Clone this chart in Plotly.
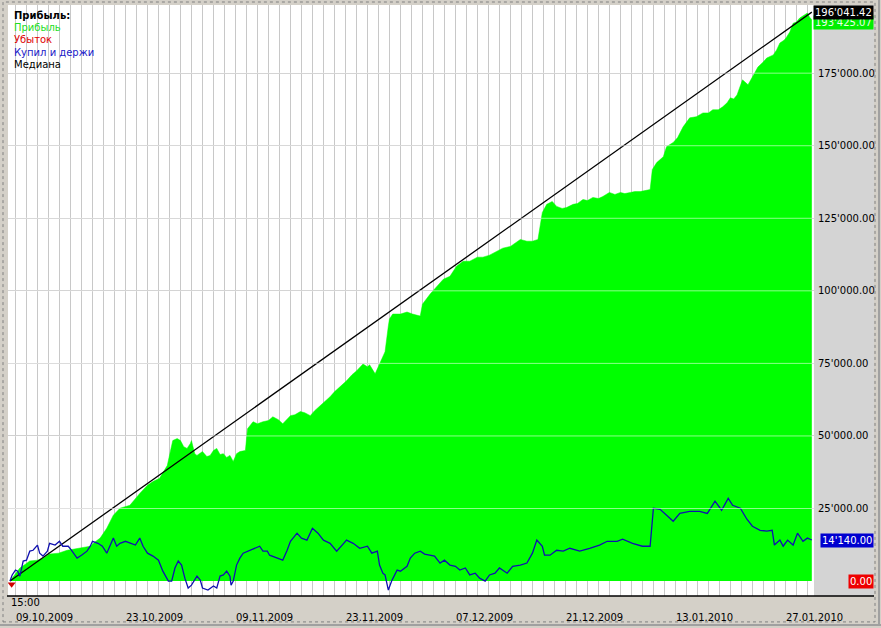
import plotly.graph_objects as go

# ---------------- data ----------------
equity_bar = [0, 5, 9, 14, 18, 25, 30, 36, 44, 52, 59, 65, 73, 77, 82, 88, 94, 100, 109, 118,
              125, 130, 136, 143, 145, 148, 152, 155, 158, 161, 164, 165, 168, 170, 175, 179, 182, 185, 188, 191,
              194, 197, 200, 203, 206, 209, 214, 216, 221, 225, 230, 235, 239, 244, 248, 252, 255, 259, 264, 268,
              273, 277, 282, 286, 291, 295, 300, 306, 311, 315, 321, 325, 327, 332, 336, 341, 344, 345, 348, 355,
              361, 366, 373, 375, 382, 388, 394, 400, 406, 412, 418, 425, 430, 436, 443, 448, 455, 459, 464, 470,
              475, 480, 482, 484, 488, 493, 497, 502, 506, 512, 516, 521, 525, 530, 535, 539, 545, 550, 555, 559,
              564, 568, 573, 577, 582, 584, 588, 594, 597, 603, 607, 612, 618, 624, 630, 635, 639, 644, 648, 652,
              655, 658, 661, 666, 671, 675, 680, 685, 688, 694, 697, 700, 704, 706, 709, 712, 715, 718, 722, 725,
              727, 729]
equity_val = [0, 2700, 4500, 5800, 6900, 7200, 7900, 9300, 9600, 10600, 11000, 11300, 12000, 13400, 14800, 18200, 22700, 25100, 26100, 30200,
              33000, 34300, 35400, 39800, 43300, 48400, 49100, 48400, 46300, 45700, 47400, 48400, 43900, 43300, 44600, 42900, 43300, 45000, 45700, 43600,
              43900, 42600, 43300, 41200, 43900, 44600, 45000, 52500, 54900, 54200, 54900, 55300, 56600, 55600, 54200, 56000, 57000, 57300, 58400, 58000,
              57000, 58700, 60400, 61800, 63500, 65200, 66900, 69000, 71100, 72400, 74800, 73800, 74500, 71400, 74800, 79000, 87900, 90300, 92000, 92000,
              92700, 92000, 91300, 95400, 98900, 101600, 104000, 105000, 108500, 110200, 110200, 111600, 111600, 112300, 113600, 114700, 115300, 116400, 117700, 117100,
              117100, 117700, 122900, 127000, 129800, 130800, 129100, 128400, 128700, 129800, 130100, 131500, 131100, 132200, 131800, 132500, 133900, 133200, 133900, 133500,
              133900, 134200, 134200, 134600, 134900, 141800, 144200, 146200, 149700, 151100, 152800, 156500, 159600, 160000, 161300, 161300, 162400, 162400, 163400, 164800,
              166500, 166100, 167500, 172700, 171000, 173700, 177100, 178900, 180200, 181300, 183000, 185400, 186400, 187400, 189200, 192200, 192600, 194000, 195000, 195700,
              194300, 193425.07]

bh_bar = [0, 2, 5, 7, 9, 12, 15, 18, 21, 25, 27, 30, 34, 36, 41, 45, 48, 53, 56, 61,
          65, 70, 73, 75, 80, 84, 88, 91, 94, 97, 100, 105, 109, 114, 118, 121, 125, 130, 135, 139,
          144, 147, 150, 153, 156, 159, 162, 165, 170, 173, 175, 180, 185, 188, 191, 194, 197, 200, 201, 203,
          206, 209, 212, 218, 223, 227, 230, 234, 236, 243, 248, 252, 255, 261, 265, 270, 275, 280, 285, 291,
          297, 302, 306, 312, 318, 325, 329, 334, 336, 339, 341, 344, 347, 352, 355, 361, 364, 368, 373, 377,
          382, 386, 391, 395, 400, 405, 409, 414, 418, 423, 427, 432, 436, 441, 445, 452, 457, 464, 470, 475,
          479, 484, 486, 491, 497, 503, 509, 518, 527, 536, 543, 552, 557, 566, 575, 582, 585, 591, 597, 603,
          609, 618, 627, 634, 641, 647, 653, 657, 664, 670, 675, 682, 688, 693, 695, 700, 703, 707, 712, 716,
          721, 725, 729]
bh_val = [0, 2100, 3800, 3400, 1700, 6900, 7200, 10300, 10600, 12400, 9600, 8600, 10300, 13000, 12400, 13700, 12000, 12000, 10600, 7900,
          8900, 10300, 12000, 13700, 13000, 12000, 9600, 12000, 14800, 12000, 13000, 13700, 13000, 12400, 14800, 12000, 9600, 8600, 7200, 3400,
          0, 0, 4500, 6900, 5500, 1000, -2400, -1400, 1700, 300, -2400, -3100, -1700, -2400, 1700, 2100, 3400, 1700, -1400, 0,
          5500, 7900, 9600, 10600, 11300, 12000, 10300, 10300, 8900, 7900, 7200, 10600, 13700, 16500, 14800, 14100, 18200, 16500, 14100, 13000,
          10300, 12400, 14100, 13000, 11300, 12000, 9600, 10300, 5500, 2700, 2100, -3100, 0, 3800, 3400, 5100, 7900, 9600, 10300, 9300,
          8900, 8600, 6200, 7200, 5500, 5100, 3800, 4500, 2100, 2700, 1000, 0, 2100, 2700, 4500, 2700, 5100, 5500, 6200, 9600,
          14100, 12000, 8900, 8900, 10600, 10300, 11300, 10300, 11300, 12400, 13700, 13700, 14400, 13000, 12000, 12000, 25100, 24700, 22700, 20600,
          23300, 24000, 24000, 23300, 27500, 24400, 28500, 26100, 25100, 21300, 18900, 17500, 17200, 17500, 12400, 14100, 12000, 14100, 12400, 16500,
          13700, 14800, 14140]

median_bar = [0, 729]
median_val = [0, 196041.42]

final_equity = 193425.07
final_median = 196041.42
final_bh = 14140.00
final_loss = 0.00

date_tick_bars = [5.45, 105.45, 205.45, 305.45, 405.45, 505.45, 605.45, 705.45]
date_tick_text = ["09.10.2009", "23.10.2009", "09.11.2009", "23.11.2009",
                  "07.12.2009", "21.12.2009", "13.01.2010", "27.01.2010"]
y_tick_vals = [25000, 50000, 75000, 100000, 125000, 150000, 175000]


def fmt(v):
    s = f"{v:,.2f}".replace(",", "'")
    return s


y_tick_text = [fmt(v) for v in y_tick_vals]

# ---------------- layout helpers ----------------
W, H = 881, 628
L, R, T, B = 8, 814, 5, 598
FONT = "DejaVu Sans"


def px(x):
    return (x - L) / (R - L)


def py(y):
    return (B - y) / (B - T)


fig = go.Figure()

fig.add_trace(go.Scatter(
    x=equity_bar, y=equity_val, mode="lines", fill="tozeroy",
    fillcolor="#00ff00", line=dict(color="#00ff00", width=0.5),
    hoverinfo="skip", showlegend=False))

fig.add_trace(go.Scatter(
    x=median_bar, y=median_val, mode="lines",
    line=dict(color="#000000", width=1.3), hoverinfo="skip", showlegend=False))

fig.add_trace(go.Scatter(
    x=bh_bar, y=bh_val, mode="lines",
    line=dict(color="#1010b0", width=1.3), hoverinfo="skip", showlegend=False))

fig.add_trace(go.Scatter(
    x=[1.5], y=[-1100], mode="markers",
    marker=dict(symbol="triangle-down", size=7, color="#d00000"),
    hoverinfo="skip", showlegend=False))

shapes = []
# horizontal grid highlight above the fill
for v in y_tick_vals:
    shapes.append(dict(type="line", xref="paper", yref="y", x0=0, x1=1, y0=v, y1=v,
                       line=dict(color="rgba(255,255,255,0.55)", width=1), layer="above"))
# right axis gray panel
shapes.append(dict(type="rect", xref="paper", yref="paper", x0=1, x1=px(874), y0=0, y1=1,
                   fillcolor="#d4d4d4", line=dict(width=0), layer="below"))
# bottom black axis line
shapes.append(dict(type="line", xref="paper", yref="paper", x0=px(7), x1=px(874),
                   y0=py(598), y1=py(598), line=dict(color="#000000", width=1.5)))
# dotted outer frame
shapes.append(dict(type="rect", xref="paper", yref="paper", x0=px(3), x1=px(875),
                   y0=py(624), y1=py(2), line=dict(color="#808080", width=1, dash="dot")))
shapes.append(dict(type="line", xref="paper", yref="paper", x0=px(879), x1=px(879),
                   y0=py(628), y1=py(0), line=dict(color="#a0a0a0", width=2)))
shapes.append(dict(type="line", xref="paper", yref="paper", x0=px(0), x1=px(881),
                   y0=py(627), y1=py(627), line=dict(color="#a0a0a0", width=2)))

annotations = []
legend_items = [("<b>Прибыль:</b>", "#000000", 15.5),
                ("Прибыль", "#22dd22", 27.5),
                ("Убыток", "#e00000", 40),
                ("Купил и держи", "#2020c8", 52.3),
                ("Медиана", "#000000", 64.3)]
for txt, col, yy in legend_items:
    annotations.append(dict(text=txt, xref="paper", yref="paper", x=px(12), y=py(yy),
                            xanchor="left", yanchor="middle", showarrow=False,
                            font=dict(family=FONT, size=10, color=col)))

annotations.append(dict(text="15:00", xref="paper", yref="paper", x=px(9), y=py(605),
                        xanchor="left", yanchor="middle", showarrow=False,
                        font=dict(family=FONT, size=10, color="#000000")))

value_labels = [(final_equity, "#00ee00", "#e8ffe8", -3),
                (final_median, "#000000", "#ffffff", 0),
                (final_bh, "#0000d0", "#ffffff", 0),
                (final_loss, "#ee0000", "#ffffff", 0)]
for v, bg, fg, ys in value_labels:
    annotations.append(dict(text=fmt(v), xref="paper", yref="y", x=1, y=v, xshift=60, yshift=ys,
                            xanchor="right", yanchor="middle", showarrow=False,
                            bgcolor=bg, borderpad=1,
                            font=dict(family=FONT, size=10, color=fg)))

fig.update_layout(
    width=W, height=H,
    margin=dict(l=L, r=W - R, t=T, b=H - B, pad=0),
    paper_bgcolor="#d4d0c8", plot_bgcolor="#ffffff",
    showlegend=False,
    shapes=shapes, annotations=annotations,
    xaxis=dict(range=[-1.8, 731], tickvals=date_tick_bars, ticktext=date_tick_text,
               ticklabelposition="outside right", ticks="", ticklabelstandoff=14,
               showgrid=True, gridcolor="#c8c8c8", gridwidth=1,
               minor=dict(tick0=5.45, dtick=10, showgrid=True, gridcolor="#c8c8c8", gridwidth=1),
               zeroline=False, showline=False,
               tickfont=dict(family=FONT, size=10, color="#000000")),
    yaxis=dict(range=[-5150, 198490], side="right", tickvals=y_tick_vals, ticktext=y_tick_text,
               ticks="", ticklabelstandoff=3, showgrid=True, gridcolor="#bcbcbc", gridwidth=1,
               zeroline=False, showline=False,
               tickfont=dict(family=FONT, size=10, color="#000000")),
)

fig.write_html("out.html", config={"displayModeBar": False},
               post_script="document.body.style.margin='0px';document.body.style.padding='0px';")
